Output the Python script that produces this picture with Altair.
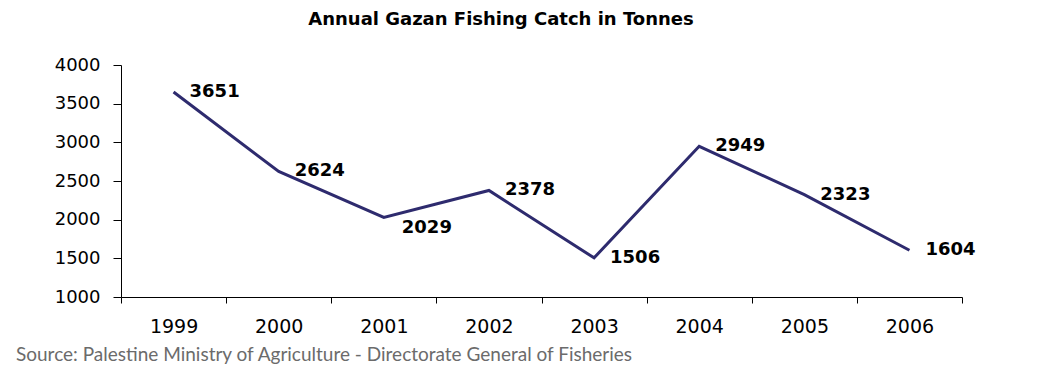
import altair as alt
import pandas as pd

# ---- data ----
years = ["1999", "2000", "2001", "2002", "2003", "2004", "2005", "2006"]
catch = [3651, 2624, 2029, 2378, 1506, 2949, 2323, 1604]
y_ticks = [1000, 1500, 2000, 2500, 3000, 3500, 4000]
title_text = "Annual Gazan Fishing Catch in Tonnes"
source_text = "Source: Palestine Ministry of Agriculture - Directorate General of Fisheries"

df = pd.DataFrame({"year": years, "catch": catch})
ttl = pd.DataFrame({"t": [title_text]})
src = pd.DataFrame({"t": [source_text]})

# label placement (Excel-like: right of point, one below-right)
below_years = ["2001"]

W, H = 841, 232
LINE_COLOR = "#2E2B6E"

x_enc = alt.X(
    "year:O",
    bandPosition=0.5,
    scale=alt.Scale(type="band", paddingInner=0, paddingOuter=0),
    axis=alt.Axis(
        title=None,
        labelAngle=0,
        tickBand="extent",
        tickSize=6,
        labelPadding=14,
        labelFont="DejaVu Sans",
        labelFontSize=19,
        labelColor="black",
        domainColor="black",
        tickColor="black",
        grid=False,
    ),
)
y_enc = alt.Y(
    "catch:Q",
    scale=alt.Scale(domain=[1000, 4000], nice=False, zero=False),
    axis=alt.Axis(
        title=None,
        values=y_ticks,
        format="d",
        tickSize=8,
        labelPadding=13,
        labelFont="DejaVu Sans",
        labelFontSize=18,
        labelColor="black",
        domainColor="black",
        tickColor="black",
        grid=False,
    ),
)

base = alt.Chart(df)

line = base.mark_line(color=LINE_COLOR, strokeWidth=3).encode(x=x_enc, y=y_enc)

label_style = dict(
    align="left", baseline="middle", font="DejaVu Sans",
    fontSize=18, fontWeight="bold", color="black",
)
labels_right = (
    base.transform_filter(~alt.FieldOneOfPredicate(field="year", oneOf=below_years))
    .mark_text(dx=16, dy=0, **label_style)
    .encode(x=x_enc, y=y_enc, text=alt.Text("catch:Q", format="d"))
)
labels_below = (
    base.transform_filter(alt.FieldOneOfPredicate(field="year", oneOf=below_years))
    .mark_text(dx=18, dy=11, **label_style)
    .encode(x=x_enc, y=y_enc, text=alt.Text("catch:Q", format="d"))
)

title = alt.Chart(ttl).mark_text(
    align="center", baseline="alphabetic", font="DejaVu Sans",
    fontSize=18, fontWeight="bold", color="black",
).encode(text="t:N", x=alt.value(380), y=alt.value(-40))

source = alt.Chart(src).mark_text(
    align="left", baseline="alphabetic", font="Lato", fontSize=19, color="#6b6b6b"
).encode(text="t:N", x=alt.value(-105), y=alt.value(296))

chart = (
    alt.layer(line, labels_right, labels_below, title, source)
    .properties(
        width=W,
        height=H,
        view=alt.ViewBackground(stroke="transparent", strokeWidth=0),
        autosize=alt.AutoSizeParams(type="none"),
        padding={"left": 113, "top": 57, "right": 78, "bottom": 67},
    )
    .configure_view(stroke="transparent", strokeWidth=0)
    .configure(background="white")
)

chart.save("out.html", embed_options={"renderer": "svg", "actions": False})
